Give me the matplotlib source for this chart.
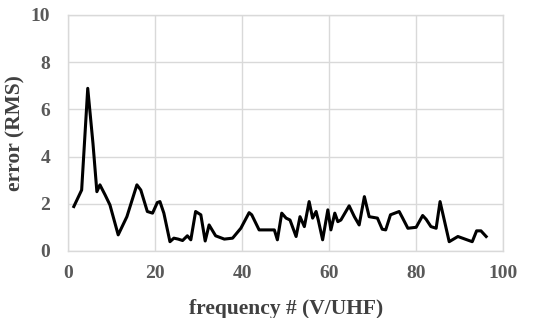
import matplotlib.pyplot as plt
import numpy as np

# frequency index and RMS error
freq = [1.3, 3.1, 4.5, 5.7, 6.6, 7.3, 8.5, 9.6, 11.5, 13.5, 15.8,
        16.7, 18.2, 19.4, 20.5, 21.1, 22.0, 23.4, 24.3, 25.3, 26.3, 27.4,
        28.2, 29.3, 30.5, 31.5, 32.4, 33.9, 35.9, 37.8, 39.7, 41.6, 42.2,
        43.9, 45.5, 47.4, 48.1, 49.1, 50.1, 51.0, 52.4, 53.3, 54.3, 55.4,
        56.2, 57.0, 57.5, 58.5, 59.7, 60.4, 61.3, 62.0, 62.7, 64.6, 65.8,
        66.9, 68.1, 69.2, 71.1, 72.2, 73.0, 74.1, 76.1, 76.9, 78.1, 80.0,
        81.5, 82.3, 83.4, 84.6, 85.5, 87.6, 89.6, 92.9, 93.9, 94.9, 96.1]
rms = [1.88, 2.58, 6.89, 4.56, 2.51, 2.80, 2.37, 1.95, 0.68, 1.45, 2.80,
       2.58, 1.67, 1.60, 2.05, 2.09, 1.60, 0.39, 0.54, 0.50, 0.44, 0.64,
       0.47, 1.67, 1.53, 0.42, 1.10, 0.64, 0.50, 0.54, 0.96, 1.62, 1.53,
       0.89, 0.89, 0.89, 0.47, 1.60, 1.39, 1.31, 0.61, 1.45, 1.03, 2.09,
       1.39, 1.67, 1.31, 0.47, 1.74, 0.89, 1.60, 1.24, 1.31, 1.91, 1.45,
       1.10, 2.30, 1.45, 1.39, 0.92, 0.89, 1.53, 1.67, 1.39, 0.96, 1.00,
       1.50, 1.34, 1.03, 0.96, 2.09, 0.39, 0.61, 0.39, 0.85, 0.85, 0.61]

xticks = [0, 20, 40, 60, 80, 100]
yticks = [0, 2, 4, 6, 8, 10]

plt.rcParams['font.family'] = ['Liberation Serif', 'DejaVu Serif']

fig = plt.figure(figsize=(5.41, 3.18), dpi=100)
ax = fig.add_axes([0.126, 0.211, 0.804, 0.742])

ax.plot(freq, rms, color='black', linewidth=2.2, solid_joinstyle='round', zorder=3)

ax.set_xlim(0, 100)
ax.set_ylim(0, 10)
ax.set_xticks(xticks)
ax.set_yticks(yticks)
ax.grid(True, color='#d9d9d9', linewidth=1.0, zorder=0)
for s in ax.spines.values():
    s.set_color('#d9d9d9')
    s.set_linewidth(1.0)
ax.tick_params(length=0, labelsize=14, labelcolor='#595959')
ax.tick_params(axis='y', pad=13)
ax.tick_params(axis='x', pad=10)
for lab in ax.get_xticklabels() + ax.get_yticklabels():
    lab.set_fontweight('bold')

ax.set_xlabel('frequency # (V/UHF)', fontsize=15.5, fontweight='bold', color='#404040')
ax.set_ylabel('error (RMS)', fontsize=15.5, fontweight='bold', color='#404040')
ax.xaxis.set_label_coords(0.5, -0.205)
ax.yaxis.set_label_coords(-0.097, 0.5)

fig.savefig('out.png', dpi=100)
